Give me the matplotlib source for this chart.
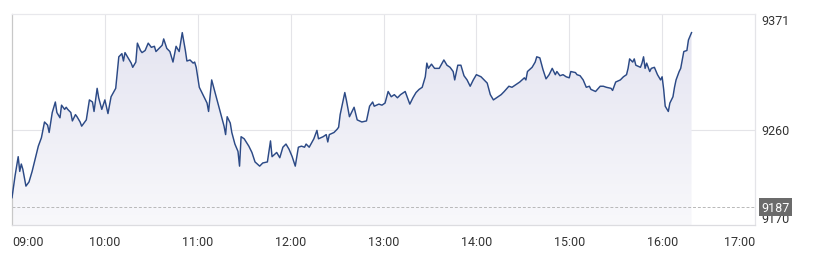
import numpy as np
import matplotlib.pyplot as plt
from matplotlib.colors import LinearSegmentedColormap

plt.rcParams['font.family'] = ['Roboto', 'DejaVu Sans']

# minutes after 09:00 and index level
minutes = [0, 2, 4, 5, 6, 7, 9, 11, 13, 15, 17, 19, 21, 23, 24, 26, 28, 29, 31, 32,
           34, 35, 36, 38, 39, 41, 42, 44, 45, 47, 48, 50, 52, 53, 55, 56, 58, 60, 62, 64,
           67, 68, 69, 71, 72, 73, 75, 77, 78, 80, 81, 83, 84, 86, 88, 90, 92, 93, 95, 97,
           98, 100, 102, 104, 106, 108, 110, 112, 113, 115, 117, 118, 119, 121, 124, 126, 127, 129, 131, 133,
           135, 137, 138, 139, 141, 142, 144, 146, 147, 148, 150, 153, 155, 157, 160, 162, 165, 167, 168, 171,
           173, 175, 177, 179, 181, 183, 185, 187, 189, 190, 192, 195, 197, 198, 201, 203, 204, 205, 208, 210,
           211, 212, 215, 216, 218, 221, 223, 226, 229, 231, 233, 234, 237, 239, 241, 243, 245, 247, 249, 251,
           254, 256, 257, 259, 261, 263, 265, 267, 268, 269, 271, 273, 276, 279, 281, 283, 285, 286, 288, 290,
           292, 294, 296, 298, 300, 303, 307, 309, 311, 314, 316, 318, 321, 323, 325, 328, 331, 332, 333, 336,
           338, 339, 341, 343, 345, 347, 349, 351, 352, 354, 356, 358, 360, 361, 364, 365, 367, 369, 371, 373,
           374, 377, 380, 382, 384, 387, 388, 390, 393, 395, 397, 398, 399, 401, 402, 403, 406, 407, 408, 409,
           410, 412, 413, 415, 417, 419, 420, 421, 422, 424, 425, 427, 428, 429, 431, 432, 434, 436, 437, 439]
prices = [9196, 9217, 9235, 9221, 9228, 9223, 9207, 9211, 9221, 9233, 9245, 9253, 9268, 9265, 9258, 9277, 9287, 9277, 9272, 9284,
          9280, 9282, 9280, 9277, 9269, 9275, 9273, 9268, 9264, 9268, 9270, 9289, 9287, 9278, 9300, 9291, 9280, 9289, 9276, 9292,
          9300, 9315, 9330, 9333, 9326, 9334, 9329, 9324, 9320, 9325, 9343, 9336, 9334, 9336, 9343, 9339, 9340, 9335, 9338, 9341,
          9347, 9338, 9335, 9325, 9340, 9335, 9353, 9336, 9326, 9327, 9324, 9325, 9320, 9301, 9292, 9286, 9278, 9308, 9297, 9286,
          9275, 9264, 9256, 9273, 9267, 9258, 9247, 9240, 9226, 9254, 9252, 9245, 9239, 9230, 9226, 9229, 9230, 9250, 9235, 9239,
          9234, 9244, 9247, 9242, 9235, 9226, 9244, 9245, 9244, 9247, 9244, 9252, 9260, 9252, 9254, 9256, 9249, 9256, 9258, 9261,
          9263, 9275, 9296, 9289, 9273, 9282, 9270, 9268, 9269, 9283, 9287, 9283, 9285, 9284, 9286, 9297, 9292, 9294, 9291, 9294,
          9297, 9289, 9285, 9291, 9296, 9299, 9301, 9311, 9324, 9319, 9323, 9319, 9319, 9327, 9322, 9320, 9316, 9308, 9322, 9322,
          9312, 9308, 9302, 9308, 9313, 9311, 9305, 9294, 9289, 9292, 9294, 9297, 9302, 9301, 9303, 9306, 9310, 9308, 9316, 9320,
          9325, 9330, 9329, 9318, 9309, 9313, 9319, 9313, 9316, 9312, 9313, 9311, 9310, 9316, 9315, 9313, 9312, 9308, 9301, 9302,
          9299, 9297, 9302, 9302, 9301, 9300, 9298, 9306, 9308, 9311, 9313, 9319, 9328, 9325, 9328, 9322, 9320, 9324, 9330, 9319,
          9324, 9316, 9319, 9320, 9313, 9308, 9311, 9299, 9283, 9278, 9286, 9292, 9301, 9308, 9316, 9319, 9335, 9336, 9346, 9353]

hour_ticks = [0, 60, 120, 180, 240, 300, 360, 420, 480]
hour_labels = ["09:00", "10:00", "11:00", "12:00", "13:00", "14:00", "15:00", "16:00", "17:00"]
y_ticks = [9371, 9260, 9170]
prev_close = 9187

t = np.array(minutes)
p = np.array(prices)

fig = plt.figure(figsize=(8.13, 2.55), dpi=100)
ax = fig.add_axes([12 / 813, 29 / 255, 743 / 813, 211.3 / 255])
ax.set_xlim(0, 480)
ax.set_ylim(9170, 9371)

# gradient fill under the line
cmap = LinearSegmentedColormap.from_list("fill", ["#f8f8fb", "#e3e3f0"])
grad = np.linspace(0, 1, 256).reshape(-1, 1)
im = ax.imshow(grad, aspect="auto", cmap=cmap, origin="lower",
               extent=[0, 480, 9170, 9371], zorder=1)
poly = ax.fill_between(t, p, 9170, facecolor="none", edgecolor="none")
im.set_clip_path(poly.get_paths()[0], transform=ax.transData)

ax.plot(t, p, color="#2c4a86", lw=1.05, zorder=3)

# grid
for h in hour_ticks[1:-1]:
    ax.axvline(h, color="#e4e4e8", lw=0.8, zorder=0.5)
ax.axhline(9260, color="#e4e4e8", lw=0.8, zorder=0.5)
ax.axhline(prev_close, color="#b8b8b8", lw=0.7, ls=(0, (3, 2)), zorder=2)

for side, col in [("left", "#c8c8c8"), ("right", "#e4e4e8"),
                  ("top", "#e8e8ec"), ("bottom", "#dcdce0")]:
    ax.spines[side].set_color(col)
    ax.spines[side].set_linewidth(0.9)

ax.set_xticks(hour_ticks)
ax.set_xticklabels(hour_labels)
ax.set_yticks([])
ax.tick_params(axis="x", length=0, pad=7, labelsize=9, labelcolor="#333333")
xl = ax.get_xticklabels()
xl[0].set_ha("left")
xl[-1].set_ha("right")

# right-side labels
ytr = ax.get_yaxis_transform()
ax.text(1.009, y_ticks[0], "9371", transform=ytr, va="top",
        ha="left", fontsize=9, color="#333333")
ax.text(1.009, y_ticks[1], "9260", transform=ytr, va="center",
        ha="left", fontsize=9, color="#333333")
ax.text(1.009, y_ticks[2], "9170", transform=ytr, va="bottom",
        ha="left", fontsize=9, color="#333333")
ax.text(1.009, prev_close, "9187", transform=ytr, va="center",
        ha="left", fontsize=9, color="white", zorder=5,
        bbox=dict(boxstyle="square,pad=0.2", facecolor="#6b6b6b", edgecolor="none"))

fig.savefig("out.png", dpi=100, facecolor="white")
